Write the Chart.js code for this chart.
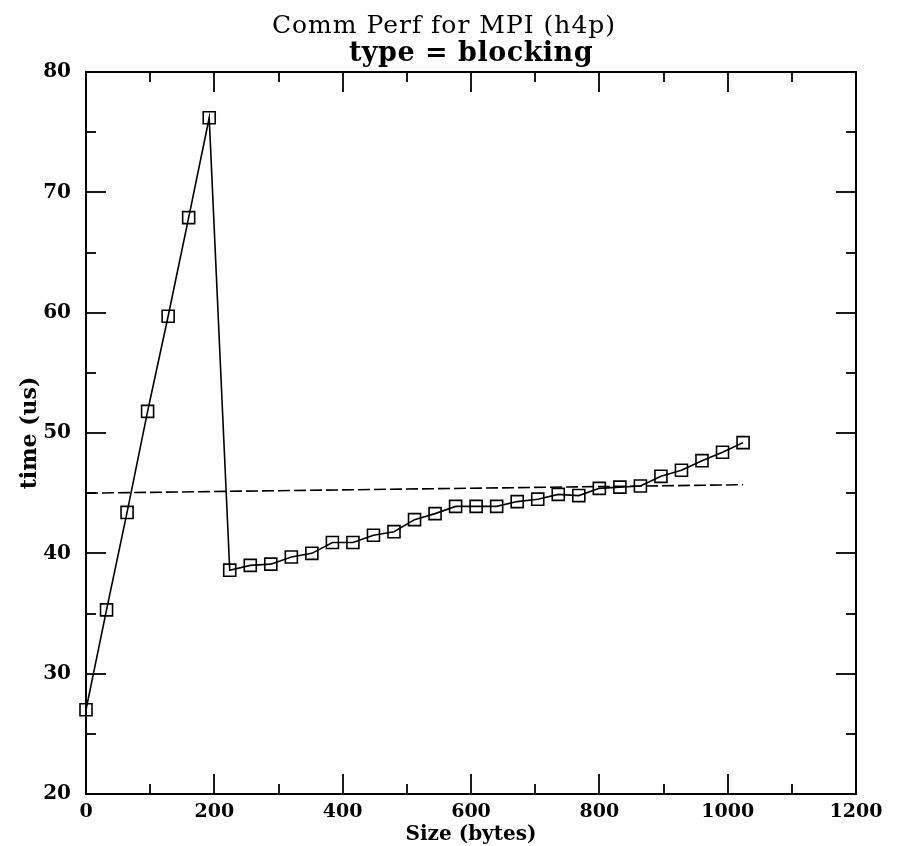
<!DOCTYPE html>
<html lang="en">
<head>
  <meta charset="UTF-8">
  <title>Comm Perf for MPI (h4p)</title>
  <script src="https://cdn.jsdelivr.net/npm/chart.js"></script>
  <style>
    body { margin: 0; background: #fff; }
    #wrap { width: 899px; height: 846px; }
  </style>
</head>
<body>
  <div id="wrap"><canvas id="myChart" width="899" height="846"></canvas></div>

<script>
  // message sizes (bytes) and measured times (us)
  var sizes = [0, 32, 64, 96, 128, 160, 192, 224, 256, 288, 320, 352, 384, 416, 448, 480, 512,
               544, 576, 608, 640, 672, 704, 736, 768, 800, 832, 864, 896, 928, 960, 992, 1024];
  var times = [27.0, 35.3, 43.4, 51.8, 59.7, 67.9, 76.2, 38.6, 39.0, 39.1, 39.7, 40.0, 40.9, 40.9, 41.5, 41.8, 42.8,
               43.3, 43.9, 43.9, 43.9, 44.3, 44.5, 44.9, 44.8, 45.4, 45.5, 45.6, 46.4, 46.9, 47.7, 48.4, 49.2];

  // the dashed fit line
  var fitSizes = [0, 1024];
  var fitTimes = [45.0, 45.7];

  var xTicks = [0, 200, 400, 600, 800, 1000, 1200];
  var yTicks = [20, 30, 40, 50, 60, 70, 80];

  var titleLine1 = 'Comm Perf for MPI (h4p)';
  var titleLine2 = 'type = blocking';
  var xTitle = 'Size (bytes)';
  var yTitle = 'time (us)';

  function toPoints(xs, ys) {
    var pts = [];
    for (var i = 0; i < xs.length; i++) {
      pts.push({x: xs[i], y: ys[i]});
    }
    return pts;
  }

  // frame, inward ticks on all four sides, titles
  const frameTicks = {
    id: 'frameTicks',
    afterDraw(chart) {
      const ctx = chart.ctx;
      const a = chart.chartArea;
      const xs = chart.scales.x;
      const ys = chart.scales.y;
      ctx.save();
      ctx.strokeStyle = '#000';
      ctx.lineWidth = 2;
      ctx.strokeRect(a.left, a.top, a.right - a.left, a.bottom - a.top);

      function seg(x1, y1, x2, y2) {
        ctx.beginPath();
        ctx.moveTo(x1, y1);
        ctx.lineTo(x2, y2);
        ctx.stroke();
      }

      ctx.lineWidth = 1.8;
      for (var v = xTicks[0]; v <= xTicks[xTicks.length - 1]; v += 100) {
        var px = Math.round(xs.getPixelForValue(v));
        var len = xTicks.includes(v) ? 20 : 10;
        seg(px, a.bottom, px, a.bottom - len);
        seg(px, a.top, px, a.top + len);
      }
      for (var w = yTicks[0]; w <= yTicks[yTicks.length - 1]; w += 5) {
        var py = Math.round(ys.getPixelForValue(w));
        var l2 = yTicks.includes(w) ? 20 : 10;
        seg(a.left, py, a.left + l2, py);
        seg(a.right, py, a.right - l2, py);
      }

      var cx = (a.left + a.right) / 2;
      ctx.fillStyle = '#000';
      ctx.textAlign = 'center';
      ctx.textBaseline = 'alphabetic';
      ctx.font = '25px "DejaVu Serif"';
      ctx.letterSpacing = '1px';
      ctx.fillText(titleLine1, cx - 27, 33);
      ctx.font = 'bold 27px "DejaVu Serif"';
      ctx.letterSpacing = '0.5px';
      ctx.fillText(titleLine2, cx, 61);
      ctx.letterSpacing = '0px';

      ctx.font = 'bold 20px "DejaVu Serif"';
      ctx.fillText(xTitle, cx, 840);

      ctx.translate(30, (a.top + a.bottom) / 2);
      ctx.rotate(-Math.PI / 2);
      ctx.textBaseline = 'middle';
      ctx.font = 'bold 22px "DejaVu Serif"';
      ctx.fillText(yTitle, 0, 0);
      ctx.restore();
    }
  };

  const ctx = document.getElementById('myChart');

  const data = {
    datasets: [{
      label: 'time',
      data: toPoints(sizes, times),
      showLine: true,
      borderColor: '#000',
      borderWidth: 1.6,
      pointStyle: 'rect',
      pointRadius: 8.5,
      pointBorderWidth: 1.6,
      pointBorderColor: '#000',
      pointBackgroundColor: 'rgba(0,0,0,0)',
      clip: false
    },
    {
      label: 'fit',
      data: toPoints(fitSizes, fitTimes),
      showLine: true,
      borderColor: '#000',
      borderWidth: 1.6,
      borderDash: [12, 4],
      pointRadius: 0,
      clip: false
    }]
  };

  const config = {
    type: 'scatter',
    data: data,
    options: {
      responsive: false,
      animation: false,
      layout: { padding: { left: 0, top: 72, right: 43, bottom: 0 } },
      plugins: {
        legend: { display: false },
        tooltip: { enabled: false }
      },
      scales: {
        x: {
          type: 'linear',
          min: 0,
          max: 1200,
          afterBuildTicks: function(scale) {
            scale.ticks = xTicks.map(function(v) { return {value: v}; });
          },
          afterFit: function(scale) { scale.height = 52; },
          grid: { display: false, drawTicks: false },
          border: { display: false },
          ticks: {
            color: '#000',
            padding: 7,
            maxRotation: 0,
            callback: function(value) { return String(value); },
            font: { family: 'DejaVu Serif', size: 19, weight: 'bold' }
          }
        },
        y: {
          type: 'linear',
          min: 20,
          max: 80,
          afterBuildTicks: function(scale) {
            scale.ticks = yTicks.map(function(v) { return {value: v}; });
          },
          afterFit: function(scale) { scale.width = 86; },
          grid: { display: false, drawTicks: false },
          border: { display: false },
          ticks: {
            color: '#000',
            padding: 15,
            callback: function(value) { return String(value); },
            font: { family: 'DejaVu Serif', size: 20, weight: 'bold' }
          }
        }
      }
    },
    plugins: [frameTicks]
  };

  var chart = new Chart(ctx, config);
</script>
</body>
</html>
